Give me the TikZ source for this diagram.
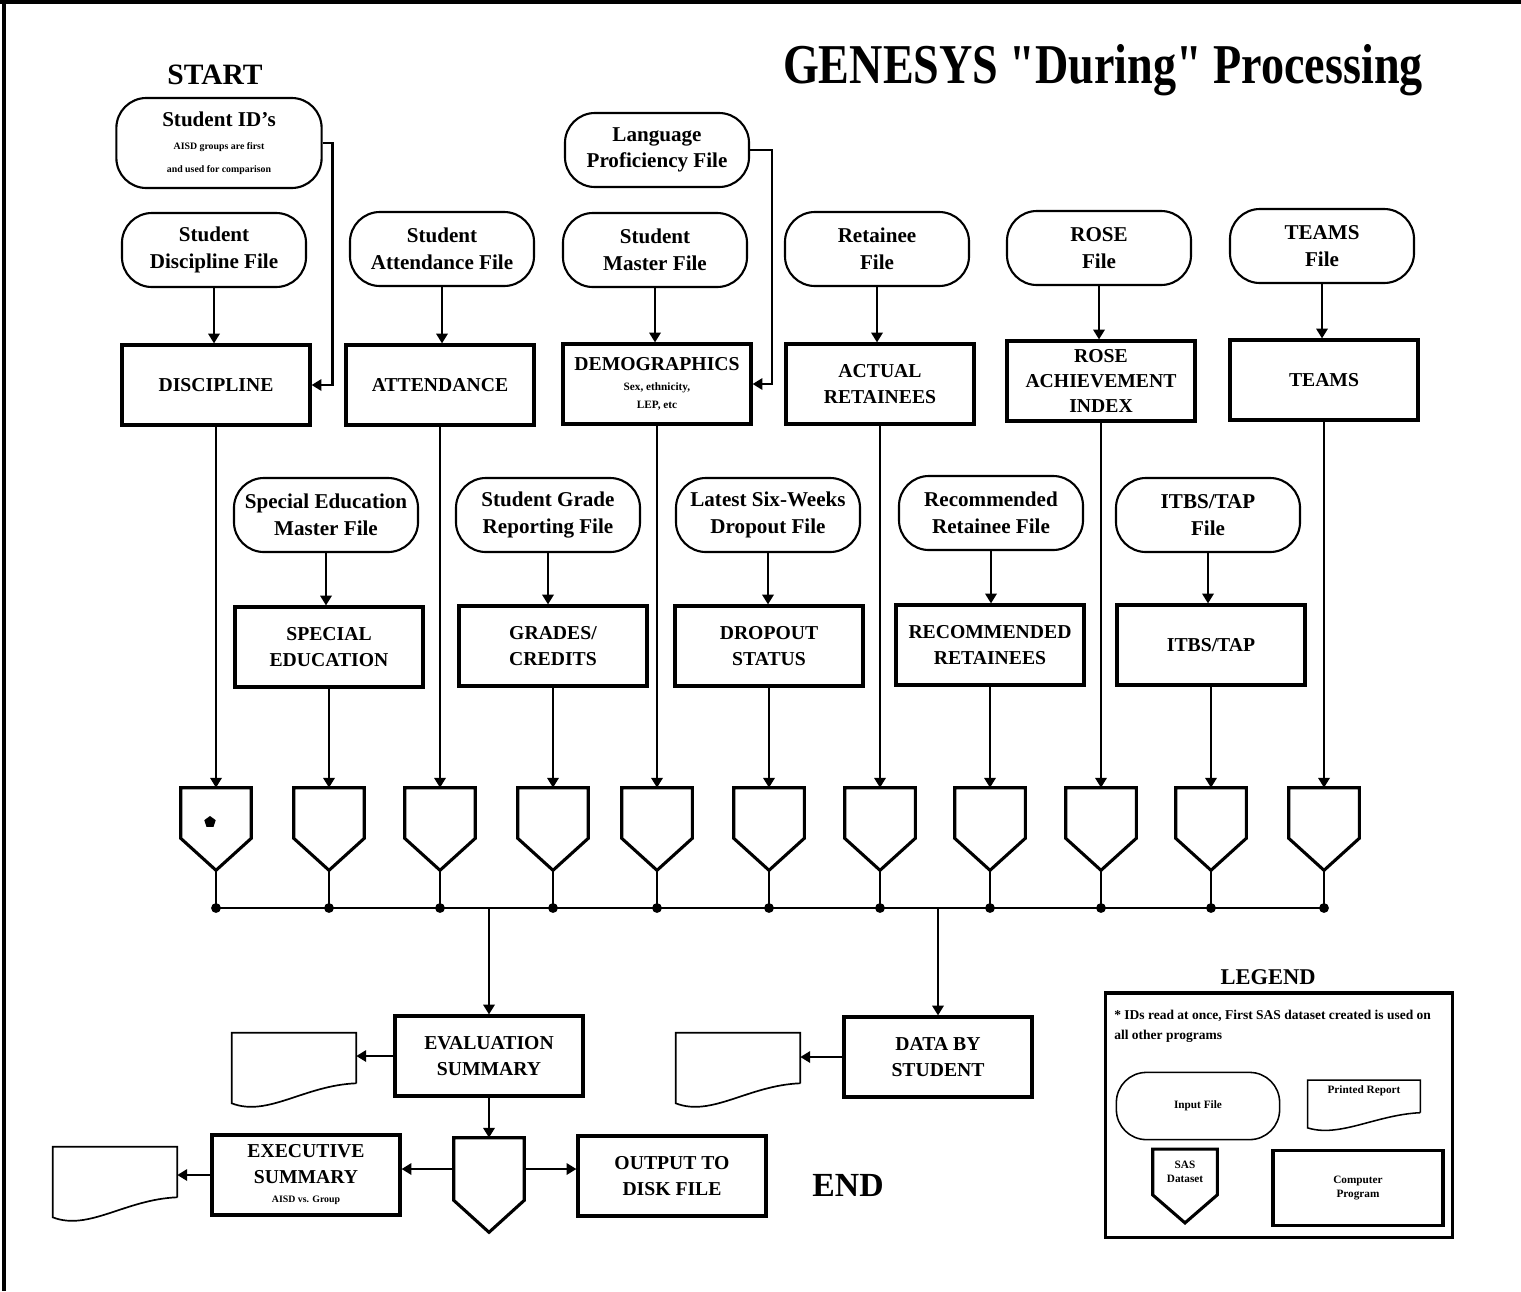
\documentclass[tikz,border=0pt]{standalone}
\usepackage{fontspec}
\setmainfont{Liberation Serif}
\newfontfamily\titlefont{Liberation Serif}[Ligatures=TeXOff]
\usetikzlibrary{arrows.meta,calc,shapes.geometric}
\begin{document}
\begin{tikzpicture}[x=0.025cm,y=-0.025cm,
  file/.style={draw, line width=1.5pt, rounded corners=0.75cm, minimum width=4.6cm, minimum height=1.85cm, align=center, inner sep=0, font=\fontsize{15}{19}\selectfont\bfseries},
  prog/.style={draw, line width=2.2pt, minimum width=4.7cm, minimum height=2cm, align=center, inner sep=0, font=\fontsize{14}{18}\selectfont\bfseries},
  sas/.style={minimum width=1.75cm, minimum height=1.25cm, inner sep=0, align=center,
     append after command={\pgfextra{\let\sasnd\tikzlastnode
       \draw[line width=2.2pt, line join=miter]
        (\sasnd.north west) -- (\sasnd.north east) -- (\sasnd.south east)
        -- ([yshift=-#1]\sasnd.south) -- (\sasnd.south west) -- cycle;}}},
  sas/.default=0.8cm,
  rep/.style={minimum width=3.1cm, minimum height=1.75cm, inner sep=0, align=center,
     append after command={\pgfextra{\let\repnd\tikzlastnode
       \draw[line width=1.2pt]
        ([yshift=0.5cm]\repnd.south east) -- (\repnd.north east) -- (\repnd.north west) -- (\repnd.south west)
        .. controls +(0.9cm,-0.35cm) and +(-1.3cm,-0.05cm) .. ([yshift=0.5cm]\repnd.south east);}}},
  legrep/.style={minimum width=2.8cm, minimum height=1.18cm, inner sep=0, align=center,
     append after command={\pgfextra{\let\repnd\tikzlastnode
       \draw[line width=1.1pt]
        ([yshift=0.38cm]\repnd.south east) -- (\repnd.north east) -- (\repnd.north west) -- (\repnd.south west)
        .. controls +(0.8cm,-0.25cm) and +(-1.1cm,-0.05cm) .. ([yshift=0.38cm]\repnd.south east);}}},
  conn/.style={line width=2pt},
  arr/.style={line width=2pt, -{Triangle[length=7pt,width=8pt]}},
  dot/.style={circle, fill, inner sep=0, minimum size=7pt},
  small/.style={font=\fontsize{8}{10}\selectfont\bfseries},
]
\useasboundingbox (0,0) rectangle (1521,1291);
% frame
\draw[line width=3pt] (0,2) -- (1521,2);
\draw[line width=2.5pt] (4,0) -- (4,1291);

% titles
\node[font=\fontsize{21}{24}\selectfont\bfseries] (start) at (215,75) {START};
\node[font=\fontsize{40}{44}\titlefont\bfseries] (title) at (1103,70) {\scalebox{0.82}[1]{GENESYS "During" Processing}};

% input files row 1
\node[file, minimum width=5.13cm, minimum height=2.25cm] (ids) at (219,143)
  {Student ID's\\[-2pt]{\fontsize{7}{9}\selectfont AISD groups are first}\\[-3pt]{\fontsize{7}{9}\selectfont and used for comparison}};
\node[file] (fdisc) at (214,250) {Student\\Discipline File};
\node[file] (fatt) at (442,249) {Student\\Attendance File};
\node[file] (fmast) at (655,250) {Student\\Master File};
\node[file] (flang) at (657,150) {Language\\Proficiency File};
\node[file] (fret) at (877,249) {Retainee\\File};
\node[file] (frose) at (1099,248) {ROSE\\File};
\node[file] (fteams) at (1322,246) {TEAMS\\File};

% programs row 1
\node[prog] (disc) at (216,385) {DISCIPLINE};
\node[prog] (att) at (440,385) {ATTENDANCE};
\node[prog] (demo) at (657,384) {DEMOGRAPHICS\\[-4pt]{\fontsize{8}{10}\selectfont Sex, ethnicity,}\\[-5pt]{\fontsize{8}{10}\selectfont LEP, etc}};
\node[prog] (actret) at (880,384) {ACTUAL\\RETAINEES};
\node[prog] (rose) at (1101,381) {ROSE\\ACHIEVEMENT\\INDEX};
\node[prog] (teams) at (1324,380) {TEAMS};

% input files row 2
\node[file] (fsped) at (326,515) {Special Education\\Master File};
\node[file] (fgrade) at (548,515) {Student Grade\\Reporting File};
\node[file] (fdrop) at (768,515) {Latest Six-Weeks\\Dropout File};
\node[file] (frec) at (991,513) {Recommended\\Retainee File};
\node[file] (fitbs) at (1208,515) {ITBS/TAP\\File};

% programs row 2
\node[prog] (sped) at (329,647) {SPECIAL\\EDUCATION};
\node[prog] (grades) at (553,646) {GRADES/\\CREDITS};
\node[prog] (drop) at (769,646) {DROPOUT\\STATUS};
\node[prog] (rec) at (990,645) {RECOMMENDED\\RETAINEES};
\node[prog] (itbs) at (1211,645) {ITBS/TAP};

% file -> program arrows
\foreach \f/\p in {fdisc/disc, fatt/att, fmast/demo, fret/actret, frose/rose, fteams/teams,
                   fsped/sped, fgrade/grades, fdrop/drop, frec/rec, fitbs/itbs}
  \draw[arr] (\f.south) -- (\f.south |- \p.north);

% side connectors
\draw[arr] (ids.east) -- ++(10,0) |- (disc.east);
\draw[arr] (flang.east) -- ++(22,0) |- (demo.east);

% SAS datasets
\coordinate (sasy) at (0,813);
\coordinate (busy) at (0,908);
\node[sas] (s1) at (disc |- sasy) {};
\node[sas] (s2) at (sped |- sasy) {};
\node[sas] (s3) at (att |- sasy) {};
\node[sas] (s4) at (grades |- sasy) {};
\node[sas] (s5) at (demo |- sasy) {};
\node[sas] (s6) at (drop |- sasy) {};
\node[sas] (s7) at (actret |- sasy) {};
\node[sas] (s8) at (rec |- sasy) {};
\node[sas] (s9) at (rose |- sasy) {};
\node[sas] (s10) at (itbs |- sasy) {};
\node[sas] (s11) at (teams |- sasy) {};
\node[regular polygon, regular polygon sides=5, fill, inner sep=0, minimum size=0.3cm] (ast) at (210,822) {};

\foreach \p/\s in {disc/s1, sped/s2, att/s3, grades/s4, demo/s5, drop/s6, actret/s7, rec/s8, rose/s9, itbs/s10, teams/s11}
  \draw[arr] (\p.south) -- (\s.north);

\foreach \s in {s1,s2,s3,s4,s5,s6,s7,s8,s9,s10,s11}
  \draw[conn] ([yshift=-0.8cm]\s.south) -- (\s.south |- busy) node[dot] (j\s) {};
\draw[conn] (s1.south |- busy) -- (s11.south |- busy);

% outputs
\node[prog] (eval) at (489,1056) {EVALUATION\\SUMMARY};
\node[prog] (dbs) at (938,1057) {DATA BY\\STUDENT};
\node[rep] (rep1) at (294,1068) {};
\node[rep] (rep2) at (738,1068) {};
\draw[arr] (eval.north |- busy) -- (eval.north);
\draw[arr] (dbs.north |- busy) -- (dbs.north);
\draw[arr] (eval.west) -- (eval.west -| rep1.east);
\draw[arr] (dbs.west) -- (dbs.west -| rep2.east);

\node[sas, minimum height=1.55cm] (bp) at (eval.south |- 0,1169) {};
\draw[arr] (eval.south) -- (bp.north);
\node[prog] (exec) at (306,1175) {EXECUTIVE\\SUMMARY\\[-4pt]{\fontsize{7}{9}\selectfont AISD vs. Group}};
\node[prog] (output) at (672,1176) {OUTPUT TO\\DISK FILE};
\node[rep] (rep3) at (115,1182) {};
\draw[arr] (bp.west) -- (bp.west -| exec.east);
\draw[arr] (bp.east) -- (bp.east -| output.west);
\draw[arr] (exec.west) -- (exec.west -| rep3.east);
\node[font=\fontsize{24}{28}\selectfont\bfseries] (endlbl) at (848,1185) {END};

% legend
\node[font=\fontsize{16}{19}\selectfont\bfseries] (legt) at (1268,977) {LEGEND};
\node[draw, line width=2.2pt, minimum width=8.68cm, minimum height=6.1cm] (legbox) at (1279,1115) {};
\node[anchor=north west, align=left, font=\fontsize{9.6}{14}\selectfont\bfseries, inner sep=0] (note) at (1114,1010)
  {* IDs read at once, First SAS dataset created is used on\\all other programs};
\node[file, line width=1.1pt, minimum width=4.08cm, minimum height=1.68cm, small] (legin) at (1198,1106) {Input File};
\node[legrep, small] (legrp) at (1364,1104) {Printed Report\\[10pt]};
\node[sas=0.7cm, minimum width=1.6cm, minimum height=1.13cm, small] (legsas) at (1185,1172) {SAS\\Dataset};
\node[prog, minimum width=4.25cm, minimum height=1.88cm, small] (legprog) at (1358,1188) {Computer\\Program};
\end{tikzpicture}
\end{document}
